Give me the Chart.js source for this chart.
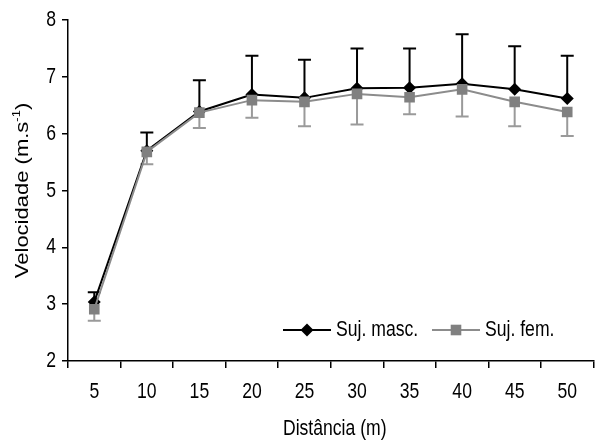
<!DOCTYPE html>
<html>
<head>
<meta charset="utf-8">
<script src="https://cdn.jsdelivr.net/npm/chart.js@4"></script>
<style>
  html, body { margin: 0; padding: 0; background: #fff; overflow: hidden; }
  #wrap { position: relative; width: 601px; height: 440px; }
</style>
</head>
<body>
<div id="wrap"><canvas id="velChart" width="601" height="440"></canvas></div>
<script>
// data
const distancias = ['5', '10', '15', '20', '25', '30', '35', '40', '45', '50'];
const velMasc = [3.04, 5.70, 6.39, 6.69, 6.63, 6.80, 6.81, 6.88, 6.78, 6.62];
const dpMasc  = [0.17, 0.32, 0.55, 0.68, 0.67, 0.70, 0.69, 0.87, 0.76, 0.75];
const velFem  = [2.91, 5.68, 6.37, 6.59, 6.56, 6.70, 6.64, 6.78, 6.56, 6.38];
const dpFem   = [0.20, 0.22, 0.27, 0.31, 0.43, 0.54, 0.30, 0.48, 0.43, 0.42];
const yMin = 2, yMax = 8, yStep = 1;

const FONT = '"Liberation Sans", Arial, sans-serif';
const FSIZE = 22;
const SQUEEZE = 0.8;   // the original text looks condensed

// text drawn narrower than the font is
function narrowText(ctx, txt, x, y, align) {
  ctx.save();
  ctx.translate(x, y);
  ctx.scale(SQUEEZE, 1);
  ctx.textAlign = align;
  ctx.fillText(txt, 0, 0);
  ctx.restore();
}

// vertical error bars: men upward, women downward
const errorBars = {
  id: 'errorBars',
  beforeDatasetsDraw(chart) {
    const { ctx, scales: { x, y } } = chart;
    chart.data.datasets.forEach(ds => {
      ctx.save();
      ctx.strokeStyle = ds.errColor;
      ctx.lineWidth = 2;
      ds.data.forEach((v, i) => {
        const px = x.getPixelForValue(i);
        const py = y.getPixelForValue(v);
        const pe = y.getPixelForValue(v + ds.dir * ds.sd[i]);
        ctx.beginPath();
        ctx.moveTo(px, py);
        ctx.lineTo(px, pe);
        ctx.moveTo(px - 6.5, pe);
        ctx.lineTo(px + 6.5, pe);
        ctx.stroke();
      });
      ctx.restore();
    });
  }
};

// tick labels, titles and the legend inside the plot
const extras = {
  id: 'extras',
  afterDraw(chart) {
    const { ctx, chartArea, scales: { x, y } } = chart;
    ctx.save();
    ctx.fillStyle = '#000';
    ctx.font = FSIZE + 'px ' + FONT;
    ctx.textBaseline = 'middle';

    x.ticks.forEach((t, i) => {
      narrowText(ctx, distancias[t.value], x.getPixelForTick(i), 392, 'center');
    });
    y.ticks.forEach((t, i) => {
      narrowText(ctx, String(t.value), 56, y.getPixelForTick(i), 'right');
    });

    // x title
    narrowText(ctx, 'Distância (m)', (chartArea.left + chartArea.right) / 2 + 4, 429, 'center');

    // y title with superscript; squeeze across the text, not along it
    ctx.save();
    ctx.translate(23, (chartArea.top + chartArea.bottom) / 2);
    ctx.rotate(-Math.PI / 2);
    ctx.scale(1, SQUEEZE);
    const main = 'Velocidade (m.s';
    const small = Math.round(FSIZE * 0.6) + 'px ' + FONT;
    ctx.font = FSIZE + 'px ' + FONT;
    const w1 = ctx.measureText(main).width;
    const w3 = ctx.measureText(')').width;
    ctx.font = small;
    const w2 = ctx.measureText('-1').width;
    let sx = -(w1 + w2 + w3) / 2;
    ctx.textAlign = 'left';
    ctx.font = FSIZE + 'px ' + FONT;
    ctx.fillText(main, sx, 0);
    ctx.font = small;
    ctx.fillText('-1', sx + w1, -7);
    ctx.font = FSIZE + 'px ' + FONT;
    ctx.fillText(')', sx + w1 + w2, 0);
    ctx.restore();

    // legend
    const ly = 330;
    const items = [
      { x: 283, ds: chart.data.datasets[1] },
      { x: 432, ds: chart.data.datasets[0] }
    ];
    items.forEach(it => {
      const ds = it.ds;
      ctx.strokeStyle = ds.borderColor;
      ctx.lineWidth = 2;
      ctx.beginPath();
      ctx.moveTo(it.x, ly);
      ctx.lineTo(it.x + 48, ly);
      ctx.stroke();
      ctx.fillStyle = ds.pointBackgroundColor;
      Chart.helpers.drawPoint(ctx, {
        pointStyle: ds.pointStyle, radius: ds.pointRadius, rotation: 0, borderWidth: 0
      }, it.x + 24, ly);
      ctx.fillStyle = '#000';
      narrowText(ctx, ds.label, it.x + 53, ly, 'left');
    });
    ctx.restore();
  }
};

new Chart(document.getElementById('velChart'), {
  type: 'line',
  data: {
    labels: distancias,
    datasets: [
      {
        label: 'Suj. fem.',
        data: velFem,
        sd: dpFem,
        dir: -1,
        errColor: '#9a9a9a',
        borderColor: '#8c8c8c',
        borderWidth: 2,
        pointStyle: 'rect',
        pointRadius: 7.5,
        pointBackgroundColor: '#808080',
        pointBorderWidth: 0,
        order: 0
      },
      {
        label: 'Suj. masc.',
        data: velMasc,
        sd: dpMasc,
        dir: 1,
        errColor: '#000',
        borderColor: '#000',
        borderWidth: 2,
        pointStyle: 'rectRot',
        pointRadius: 6.5,
        pointBackgroundColor: '#000',
        pointBorderWidth: 0,
        order: 1
      }
    ]
  },
  options: {
    responsive: false,
    animation: false,
    devicePixelRatio: 1,
    layout: { padding: { top: 20, right: 0, bottom: 0, left: 0 } },
    plugins: { legend: { display: false }, tooltip: { enabled: false } },
    scales: {
      x: {
        offset: true,
        grid: { offset: true, drawOnChartArea: false, tickLength: 7, color: '#000', lineWidth: 1.5 },
        border: { color: '#000', width: 1.5 },
        ticks: { color: 'rgba(0,0,0,0)', font: { family: FONT, size: FSIZE }, padding: 12, maxRotation: 0 },
        afterFit(s) { s.height = 79; }
      },
      y: {
        min: yMin,
        max: yMax,
        grid: { drawOnChartArea: false, tickLength: 6, color: '#000', lineWidth: 1.5 },
        border: { color: '#000', width: 1.5 },
        ticks: { stepSize: yStep, color: 'rgba(0,0,0,0)', font: { family: FONT, size: FSIZE }, padding: 6 },
        afterFit(s) { s.width = 68; }
      }
    }
  },
  plugins: [errorBars, extras]
});
</script>
</body>
</html>
